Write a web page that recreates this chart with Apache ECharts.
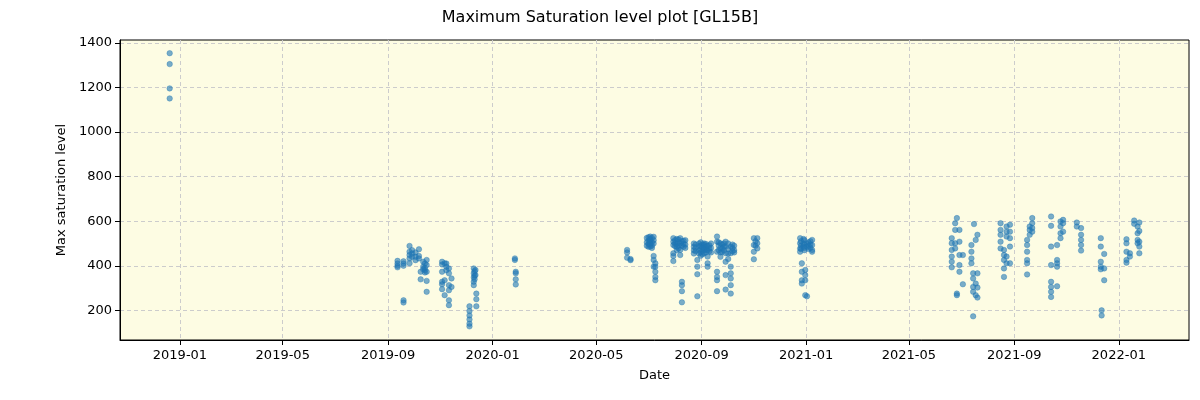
<!DOCTYPE html>
<html>
<head>
<meta charset="utf-8">
<script src="https://cdn.jsdelivr.net/npm/echarts@6/dist/echarts.min.js"></script>
<style>html,body{margin:0;padding:0;background:#fff}#chart{width:1200px;height:400px}</style>
</head>
<body>
<div id="chart"></div>
<script>
// observation dates (one per group of points) and the values observed on each date
const clusterDates = [
  '2018-12-20',
  '2019-09-12','2019-09-19','2019-09-26','2019-09-29','2019-10-03','2019-10-07','2019-10-09','2019-10-12','2019-10-14','2019-10-16',
  '2019-11-03','2019-11-06','2019-11-08','2019-11-11','2019-11-14','2019-12-05','2019-12-10','2019-12-11','2019-12-12','2019-12-13',
  '2020-01-27','2020-01-28',
  '2020-06-06','2020-06-10','2020-06-29','2020-07-01','2020-07-03','2020-07-05','2020-07-07','2020-07-09',
  '2020-07-30','2020-08-01','2020-08-03','2020-08-05','2020-08-07','2020-08-09','2020-08-11','2020-08-13',
  '2020-08-23','2020-08-25','2020-08-27','2020-08-29','2020-08-31','2020-09-02','2020-09-04','2020-09-06','2020-09-08','2020-09-10','2020-09-12',
  '2020-09-19','2020-09-21','2020-09-23','2020-09-25','2020-09-27','2020-09-29','2020-10-02','2020-10-05','2020-10-07','2020-10-09',
  '2020-11-01','2020-11-03','2020-11-05',
  '2020-12-25','2020-12-26','2020-12-27','2020-12-29','2020-12-30','2020-12-31','2021-01-02','2021-01-04','2021-01-06','2021-01-08',
  '2021-06-20','2021-06-24','2021-06-26','2021-06-29','2021-07-03',
  '2021-07-13','2021-07-15','2021-07-16','2021-07-18','2021-07-20',
  '2021-08-16','2021-08-20','2021-08-23','2021-08-27',
  '2021-09-16','2021-09-19','2021-09-22',
  '2021-10-14','2021-10-21','2021-10-25','2021-10-28',
  '2021-11-13','2021-11-18',
  '2021-12-11','2021-12-12','2021-12-15',
  '2022-01-10','2022-01-14','2022-01-19','2022-01-23','2022-01-25'
];
const clusterValues = [
  [1354,1305,1196,1151],
  [422,410,400,393],[420,410,400,245,235],[489,463,448,433,411],[470,455,440],[460,440,425],[474,444,433],[373,339],[418,396,384],[410,390,380,370],[426,403,373,332,283],
  [418,406,373,328,317,295],[411,335,268],[410,395,380],[388,366,313,290,245,223],[343,305],[218,197,177,159,140,128],[388,366,348,328,313],[375,355,340],[381,358],[275,250,218],
  [433,426],[373,366,339,316],
  [471,460,436],[430,425],[525,505,490],[528,512,498,485],[531,516,501,486,520,510,495],[525,505,490,480],[530,515,500,444,426,396],[373,350,335,411,396],
  [524,508,493,456,444,421],[515,500,488],[520,500,485,470],[518,505,490,478],[524,501,471,448],[328,313,286,236,510,490],[512,498,485],[515,495,480],
  [500,485,470,455],[495,480,465],[426,396,362,263],[500,488,470,455],[505,490,475,460,445],[495,482,468,452],[493,471,456,500,480],[498,485,472,460],[441,411,396,490,470],[492,478,465],[500,480,460],
  [531,508,463,373,350,335,286],[505,490,470],[500,480,460,440],[495,478,462],[500,485,470],[508,486,456,418,358,293],[500,475,455,430],[486,456,396,366,343,313,275],[495,480,465],[490,470,460],
  [524,493,463,429],[510,490],[524,501,478],
  [524,501,478,463],[510,490,475],[411,373,335,320],[520,500,485],[515,495,480,470],[381,358,335,268],[263,500,485],[505,490,475],[510,495,480],[516,493,471,463],
  [524,501,471,441,418,393],[591,561,501,478],[614,275,268],[561,508,448,403,373],[448,317],
  [493,463,433,411],[366,343,305,283,173],[587],[516,320,268],[539,366,302,257],
  [591,561,539,508,478],[471,448,426,388,350],[576,553,531,441,411],[584,553,524,486,411],
  [516,493,463,426,411,361],[576,561,539],[614,591,569,553],
  [621,579,486,403,328,305,283,260],[493,426,411,396,308],[599,576,546,524],[606,591,553],
  [594,576],[569,539,516,493,468],
  [524,486,418,396,384],[200,177],[453,388,335],
  [519,501,463,426,414],[456,441],[603,588],[576,546,516,501],[594,556,508,486,456]
];
const xTickDates = ['2019-01-01','2019-05-01','2019-09-01','2020-01-01','2020-05-01','2020-09-01','2021-01-01','2021-05-01','2021-09-01','2022-01-01'];
const yTickValues = [200,400,600,800,1000,1200,1400];

const toMs = s => Date.parse(s + 'T00:00:00Z');
const points = [];
clusterDates.forEach((d, i) => clusterValues[i].forEach(v => points.push([toMs(d), v])));
const xTicks = xTickDates.map(toMs);

const chart = echarts.init(document.getElementById('chart'));
const font = 'DejaVu Sans';
chart.setOption({
  animation: false,
  title: {
    text: 'Maximum Saturation level plot [GL15B]',
    left: 'center', top: 5,
    textStyle: {fontFamily: font, fontSize: 16, fontWeight: 'normal', color: '#000'}
  },
  grid: {
    left: 120, right: 11, top: 40, bottom: 60,
    show: true, backgroundColor: '#fdfce3', borderColor: '#000', borderWidth: 1
  },
  xAxis: {
    type: 'value',
    min: toMs('2018-10-23'), max: toMs('2022-03-24'),
    name: 'Date', nameLocation: 'middle', nameGap: 29,
    nameTextStyle: {fontFamily: font, fontSize: 13, color: '#000'},
    axisLine: {show: true, onZero: false, lineStyle: {color: '#000', width: 1}},
    axisTick: {show: true, length: 5, lineStyle: {color: '#000'}, customValues: xTicks},
    axisLabel: {
      customValues: xTicks, margin: 9,
      fontFamily: font, fontSize: 13, color: '#000',
      formatter: function (val) {
        const d = new Date(val);
        const m = d.getUTCMonth() + 1;
        return d.getUTCFullYear() + '-' + (m < 10 ? '0' + m : m);
      }
    },
    splitLine: {show: true, lineStyle: {color: '#cccccc', type: [4, 3], width: 1}}
  },
  yAxis: {
    type: 'value',
    min: 66.8, max: 1413.2,
    name: 'Max saturation level', nameLocation: 'middle', nameGap: 47,
    nameTextStyle: {fontFamily: font, fontSize: 13, color: '#000'},
    axisLine: {show: true, lineStyle: {color: '#000', width: 1}},
    axisTick: {show: true, length: 5, lineStyle: {color: '#000'}, customValues: yTickValues},
    axisLabel: {customValues: yTickValues, margin: 8, fontFamily: font, fontSize: 13, color: '#000',
      formatter: v => String(v)},
    splitLine: {show: true, lineStyle: {color: '#cccccc', type: [4, 3], width: 1}}
  },
  series: [{
    type: 'scatter',
    data: points,
    symbolSize: 5.5,
    itemStyle: {color: '#1f77b4', opacity: 0.6, borderColor: '#1f77b4', borderWidth: 0.6}
  }]
});
</script>
</body>
</html>
